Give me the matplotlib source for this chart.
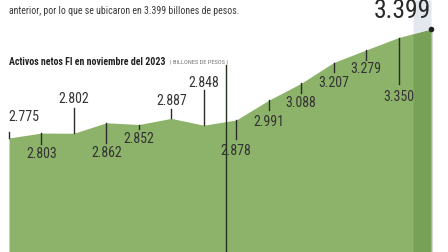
import matplotlib
matplotlib.use("Agg")
import matplotlib.pyplot as plt
import numpy as np

# Activos netos FI (billones de pesos), month by month up to noviembre 2023
values = [2.775, 2.803, 2.802, 2.862, 2.852, 2.887, 2.848,
          2.878, 2.991, 3.088, 3.207, 3.279, 3.350, 3.399]
labels = ["2.775", "2.803", "2.802", "2.862", "2.852", "2.887", "2.848",
          "2.878", "2.991", "3.088", "3.207", "3.279", "3.350"]
last_label = "3.399"

# layout: label / leader offsets in pixels from the curve (negative = up)
label_off = [-21, 21, -34, 30, 14, -17, -42, 31, 22, 20, 20, 19, 59]
tick_off = [-6, 11, -25, 20, 4, -9, -35, 19, 10, 10, 9, 10, 46]

FONT = ["Roboto Condensed", "DejaVu Sans"]
GREEN = "#8cb369"
DARK_GREEN = "#76a157"
INK = "#333333"

W, H = 448, 252
fig = plt.figure(figsize=(W / 100, H / 100), dpi=100)
ax = fig.add_axes([0, 0, 1, 1])

x = np.arange(len(values))
step = 32.46
ymin, ymax = 2.122, 3.565
ax.set_xlim(-9 / step, 13 + 17 / step)
ax.set_ylim(ymin, ymax)
ax.axis("off")
ppu = H / (ymax - ymin)  # pixels per unit on y

ax.fill_between(x, values, ymin, color=GREEN, lw=0)

# darker last strip with light band above it
x0 = 12.45
xs = np.linspace(x0, 13, 20)
ys = np.interp(xs, x, values)
ax.fill_between(xs, ys, ymin, color=DARK_GREEN, lw=0)
ax.fill_between(xs, ys, ymax, color="#e3e8ef", lw=0)
ax.plot([13.03, 13.03], [ymin, values[-1]], color="#d5d5d5", lw=0.8)

# divider line
ax.plot([6.69, 6.69], [ymin, 3.193], color="#26301e", lw=1)

for i, lab in enumerate(labels):
    y = values[i]
    ax.plot([i, i], [y, y - tick_off[i] / ppu], color="#2b2b2b", lw=1)
    ha = "left" if i == 0 else "center"
    xx = i - 0.03 if i == 0 else i
    ax.text(xx, y - label_off[i] / ppu, lab, ha=ha, va="center",
            fontsize=10, color=INK, family=FONT)

ax.plot(13, values[-1], "o", color="#222222", ms=3)
ax.text(13, ymax - 18 / ppu, last_label, ha="right", va="baseline",
        fontsize=18.5, color="#2a2a2a", family=FONT)

fig.text(9 / W, 1 - 11 / H, "anterior, por lo que se ubicaron en 3.399 billones de pesos.",
         ha="left", va="center", fontsize=7.15, color="#3a3a3a", family=FONT)
fig.text(9 / W, 1 - 62 / H, "Activos netos FI en noviembre del 2023",
         ha="left", va="center", fontsize=7.1, fontweight="bold",
         color="#222222", family=FONT)
fig.text(170 / W, 1 - 62 / H, "| BILLONES DE PESOS |", ha="left", va="center",
         fontsize=4.6, color="#777777", family=FONT)

fig.savefig("out.png", dpi=100)
